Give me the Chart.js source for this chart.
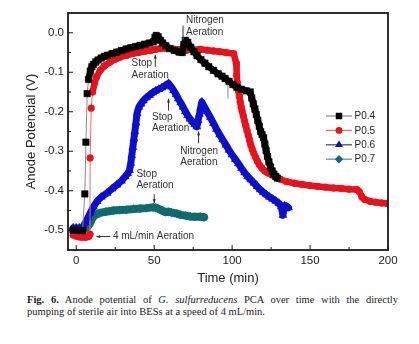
<!DOCTYPE html>
<html>
<head>
<meta charset="utf-8">
<script src="https://cdn.jsdelivr.net/npm/chart.js@4.4.1/dist/chart.umd.min.js"></script>
<style>
  html, body { margin: 0; padding: 0; background: #fff; }
  #wrap { position: absolute; left: 0; top: 0; width: 419px; height: 290px; }
  .cap { position: absolute; left: 27px; width: 371px; font-family: "Liberation Serif", "Times New Roman", serif;
         font-size: 10.5px; line-height: 11.7px; color: #222; white-space: nowrap; }
  #cap1 { top: 294px; text-align: justify; text-align-last: justify; }
  #cap2 { top: 305.7px; }
</style>
</head>
<body>
<div id="wrap"><canvas id="chart"></canvas></div>
<div class="cap" id="cap1"><b>Fig. 6.</b> Anode potential of <i>G. sulfurreducens</i> PCA over time with the directly</div>
<div class="cap" id="cap2">pumping of sterile air into BESs at a speed of 4 mL/min.</div>
<script>
// time (min) / anode potential (V) for each run
const p04Time = [-2, 0, 2, 4, 5.5, 6.2, 7.0, 7.9, 9, 10, 11, 12.5, 14, 16, 18, 20, 23, 26, 29, 32, 35, 38, 41, 44, 47, 49.5,
  50.5, 51.3, 52.5, 54, 55.5, 57.5, 60, 63, 66, 68, 69, 70, 71.5, 73.5, 75.5, 77.5, 80, 82.5, 85, 88, 91, 93.5, 95.5, 98,
  100.5, 103, 106, 109, 111.6, 112.6, 113.6, 114.6, 115.5, 116.5, 117.4, 118.3, 119.2, 120.2, 121, 121.8, 122.7, 123.6,
  124.6, 125.7, 126.8, 128, 129];
const p04Volt = [-0.500, -0.500, -0.500, -0.501, -0.408, -0.277, -0.154, -0.118, -0.097, -0.086, -0.080, -0.074, -0.069,
  -0.064, -0.060, -0.057, -0.053, -0.049, -0.045, -0.041, -0.038, -0.035, -0.032, -0.029, -0.026, -0.023,
  -0.012, -0.007, -0.010, -0.019, -0.026, -0.033, -0.040, -0.045, -0.049, -0.050, -0.030, -0.019, -0.024, -0.037, -0.048,
  -0.058, -0.068, -0.077, -0.086, -0.095, -0.104, -0.110, -0.116, -0.123, -0.131, -0.138, -0.143, -0.147, -0.150,
  -0.165, -0.180, -0.193, -0.207, -0.222, -0.237, -0.250, -0.258, -0.266, -0.282, -0.298, -0.313, -0.327, -0.340,
  -0.350, -0.358, -0.364, -0.368];

const p05Time = [-2, 0, 2, 4, 6, 8, 8.8, 8.9, 9.6, 10.5, 11.7, 13, 15.4, 18, 21.8, 25, 28, 32.5, 36, 40, 44, 47.5, 51, 54,
  58, 62, 66, 71, 75, 79.5, 84, 88, 92, 96, 101, 102.7, 102.9, 103.4, 104, 104.6, 105.2, 105.8, 106.4, 107.2, 108, 108.8,
  109.6, 110.4, 111.2, 112, 112.9, 113.9, 115, 116.2, 117.6, 119.2, 121, 123, 125.5, 128, 131, 135, 140, 145, 150, 155,
  160, 165, 170, 175, 180, 181.5, 183.3, 185, 188.6, 192, 196, 199.5];
const p05Volt = [-0.512, -0.515, -0.517, -0.518, -0.518, -0.516, -0.510, -0.317, -0.191, -0.150, -0.128, -0.112, -0.095,
  -0.084, -0.074, -0.067, -0.062, -0.057, -0.053, -0.050, -0.047, -0.045, -0.042, -0.040, -0.040, -0.041, -0.043, -0.044,
  -0.043, -0.042, -0.044, -0.046, -0.048, -0.050, -0.053, -0.078, -0.108, -0.128, -0.146, -0.160, -0.175, -0.188, -0.199,
  -0.211, -0.224, -0.236, -0.248, -0.260, -0.272, -0.284, -0.295, -0.305, -0.315, -0.325, -0.335, -0.343, -0.350, -0.355,
  -0.360, -0.365, -0.371, -0.377, -0.381, -0.384, -0.387, -0.389, -0.391, -0.393, -0.394, -0.396, -0.397, -0.402, -0.416,
  -0.422, -0.427, -0.429, -0.431, -0.432];

const p06Time = [-2, 0, 2, 4, 5.8, 7.5, 9, 11, 13.3, 16, 19.7, 23, 26.1, 29, 31.4, 33, 34.2, 35.0, 35.6, 36.3, 37.0, 37.6,
  38.3, 39.0, 40.2, 41.5, 43, 45, 47, 49, 51, 53, 55, 57, 59.2, 61, 62.5, 64, 65.5, 67, 68.5, 70, 71.5, 73, 74.5, 76, 77.4,
  78.2, 79, 79.8, 80.6, 82, 84, 86, 88, 90, 92, 94, 96, 98, 100, 102, 104, 106, 108, 110, 112, 114, 116, 118, 120, 122,
  124, 126, 128, 130, 131.5, 132.6, 133.6, 135, 136.2];
const p06Volt = [-0.494, -0.494, -0.494, -0.493, -0.481, -0.468, -0.456, -0.441, -0.427, -0.416, -0.406, -0.395, -0.385,
  -0.375, -0.364, -0.356, -0.348, -0.330, -0.311, -0.290, -0.268, -0.250, -0.228, -0.204, -0.188, -0.180, -0.172, -0.164,
  -0.158, -0.152, -0.147, -0.143, -0.139, -0.134, -0.128, -0.137, -0.146, -0.156, -0.167, -0.177, -0.188, -0.199, -0.209,
  -0.218, -0.225, -0.232, -0.238, -0.222, -0.206, -0.190, -0.175, -0.186, -0.200, -0.214, -0.229, -0.244, -0.258, -0.271,
  -0.284, -0.297, -0.309, -0.320, -0.331, -0.343, -0.354, -0.364, -0.372, -0.380, -0.389, -0.397, -0.404, -0.410, -0.416,
  -0.421, -0.426, -0.432, -0.440, -0.462, -0.438, -0.440, -0.443];

const p07Time = [-2, 0, 2, 4, 6, 7.5, 9, 10, 11.1, 13, 15.4, 19, 23.9, 28, 32, 36.8, 41, 45, 49.6, 51, 52.8, 55, 57.1, 59,
  61, 64.6, 67, 70, 73, 76, 79.6, 82];
const p07Volt = [-0.500, -0.500, -0.500, -0.500, -0.496, -0.490, -0.481, -0.472, -0.465, -0.460, -0.456, -0.453, -0.450,
  -0.449, -0.448, -0.446, -0.445, -0.444, -0.442, -0.443, -0.446, -0.450, -0.454, -0.453, -0.455, -0.458, -0.461, -0.463,
  -0.465, -0.466, -0.466, -0.467];

const seriesNames = ['P0.4', 'P0.5', 'P0.6', 'P0.7'];
const xTicks = [0, 50, 100, 150, 200];
const xMinor = [25, 75, 125, 175];
const yTicks = [-0.5, -0.4, -0.3, -0.2, -0.1, 0.0];
const yMinor = [-0.45, -0.35, -0.25, -0.15, -0.05];

// arrow notes, placed in data units
const notes = [
  { text: ['Nitrogen', 'Aeration'], x: 70.4, y: 0.031, from: [68.5, 0.018], to: [68.5, -0.020] },
  { text: ['Stop', 'Aeration'], x: 35.5, y: -0.077, from: [50.7, -0.086], to: [50.7, -0.056] },
  { text: ['Stop', 'Aeration'], x: 48.6, y: -0.213, from: [59.2, -0.197], to: [59.2, -0.167] },
  { text: ['Nitrogen', 'Aeration'], x: 66.7, y: -0.299, from: [78.5, -0.280], to: [78.5, -0.250] },
  { text: ['Stop', 'Aeration'], x: 38.6, y: -0.357, from: [50.0, -0.409], to: [50.0, -0.431] },
  { text: ['4 mL/min Aeration'], x: 23.5, y: -0.516, from: [21.8, -0.516], to: [13.0, -0.516] },
  { text: [], x: 0, y: 0, from: [97.3, -0.132], to: [97.3, -0.167], plain: true }
];

const look = [
  { mark: '#000000', line: '#8a8a8a', style: 'rect', r: 4.6, band: 6.5 },
  { mark: '#e8121c', line: '#f06a6a', style: 'circle', r: 3.4, band: 6.5 },
  { mark: '#0c10c8', line: '#444444', style: 'triangle', r: 4.6, band: 7 },
  { mark: '#106a70', line: '#5e8d90', style: 'rectRot', r: 4.2, band: 8 }
];
const times = [p04Time, p05Time, p06Time, p07Time];
const volts = [p04Volt, p05Volt, p06Volt, p07Volt];

function segLen(ctx) {
  return Math.hypot(ctx.p1.x - ctx.p0.x, ctx.p1.y - ctx.p0.y);
}

const datasets = seriesNames.map((name, i) => ({
  label: name,
  data: times[i].map((t, k) => ({ x: t, y: volts[i][k] })),
  borderColor: look[i].mark,
  borderWidth: look[i].band,
  borderJoinStyle: 'round',
  borderCapStyle: 'round',
  tension: 0,
  pointStyle: look[i].style,
  pointRadius: look[i].r,
  pointBackgroundColor: look[i].mark,
  pointBorderColor: look[i].mark,
  pointBorderWidth: 0.5,
  segment: {
    borderColor: c => segLen(c) > 12 ? look[i].line : look[i].mark,
    borderWidth: c => segLen(c) > 12 ? 1 : look[i].band
  }
}));

function drawMarker(ctx, style, x, y, r, color) {
  ctx.fillStyle = color;
  ctx.beginPath();
  if (style === 'rect') {
    const s = r * Math.SQRT1_2;
    ctx.rect(x - s, y - s, 2 * s, 2 * s);
  } else if (style === 'circle') {
    ctx.arc(x, y, r, 0, Math.PI * 2);
  } else if (style === 'triangle') {
    ctx.moveTo(x, y - r);
    ctx.lineTo(x + r * 0.866, y + r * 0.5);
    ctx.lineTo(x - r * 0.866, y + r * 0.5);
    ctx.closePath();
  } else {
    ctx.moveTo(x, y - r);
    ctx.lineTo(x + r, y);
    ctx.lineTo(x, y + r);
    ctx.lineTo(x - r, y);
    ctx.closePath();
  }
  ctx.fill();
}

function arrow(ctx, x0, y0, x1, y1, head) {
  ctx.beginPath();
  ctx.moveTo(x0, y0);
  ctx.lineTo(x1, y1);
  ctx.stroke();
  if (!head) return;
  const a = Math.atan2(y1 - y0, x1 - x0);
  ctx.beginPath();
  ctx.moveTo(x1, y1);
  ctx.lineTo(x1 - 4 * Math.cos(a - 0.4), y1 - 4 * Math.sin(a - 0.4));
  ctx.lineTo(x1 - 4 * Math.cos(a + 0.4), y1 - 4 * Math.sin(a + 0.4));
  ctx.closePath();
  ctx.fill();
}

// frame, inward ticks, notes and the legend box
const decor = {
  id: 'decor',
  afterDatasetsDraw(chart) {
    const { ctx, chartArea: a, scales: { x, y } } = chart;
    ctx.save();
    ctx.strokeStyle = '#1a1a1a';
    ctx.lineWidth = 1;
    xTicks.concat(xMinor).forEach(v => {
      const px = x.getPixelForValue(v);
      const len = xTicks.includes(v) ? 5 : 3;
      ctx.beginPath(); ctx.moveTo(px, a.bottom); ctx.lineTo(px, a.bottom - len); ctx.stroke();
    });
    yTicks.concat(yMinor).forEach(v => {
      const py = y.getPixelForValue(v);
      const len = yTicks.includes(v) ? 5 : 3;
      ctx.beginPath(); ctx.moveTo(a.left, py); ctx.lineTo(a.left + len, py); ctx.stroke();
    });
    ctx.lineWidth = 1.8;
    ctx.strokeRect(a.left, a.top, a.right - a.left, a.bottom - a.top);

    // notes
    ctx.font = '10px "Liberation Sans", Arial, sans-serif';
    ctx.textBaseline = 'middle';
    ctx.textAlign = 'left';
    notes.forEach(n => {
      ctx.strokeStyle = n.plain ? '#8a8a8a' : '#333333';
      ctx.fillStyle = '#333333';
      ctx.lineWidth = 1;
      arrow(ctx, x.getPixelForValue(n.from[0]), y.getPixelForValue(n.from[1]),
        x.getPixelForValue(n.to[0]), y.getPixelForValue(n.to[1]), !n.plain);
      const tx = x.getPixelForValue(n.x);
      const ty = y.getPixelForValue(n.y);
      n.text.forEach((s, k) => ctx.fillText(s, tx, ty + k * 11.8));
    });

    // legend
    ctx.font = '10px "Liberation Sans", Arial, sans-serif';
    seriesNames.forEach((name, i) => {
      const ly = a.top + 103 + i * 14.4;
      const lx = a.right - 62;
      ctx.strokeStyle = look[i].line;
      ctx.lineWidth = 1.2;
      ctx.beginPath(); ctx.moveTo(lx, ly); ctx.lineTo(lx + 26, ly); ctx.stroke();
      drawMarker(ctx, look[i].style, lx + 13, ly, look[i].r, look[i].mark);
      ctx.fillStyle = '#222222';
      ctx.fillText(name, lx + 28.5, ly + 0.5);
    });
    ctx.restore();
  }
};

Chart.defaults.font.family = '"Liberation Sans", Arial, sans-serif';
Chart.defaults.color = '#222222';

new Chart(document.getElementById('chart'), {
  type: 'line',
  data: { datasets },
  options: {
    responsive: true,
    maintainAspectRatio: false,
    animation: false,
    devicePixelRatio: 1,
    layout: { padding: { left: 0, top: 13, right: 31, bottom: 0 } },
    plugins: { legend: { display: false }, tooltip: { enabled: false } },
    scales: {
      x: {
        type: 'linear',
        min: -5.3,
        max: 200,
        afterBuildTicks: s => { s.ticks = xTicks.map(v => ({ value: v })); },
        afterFit: s => { s.height = 40; },
        grid: { display: false, drawTicks: false, tickLength: 0 },
        border: { display: false },
        ticks: { font: { size: 11.5 }, padding: 4, maxRotation: 0, callback: v => String(v) },
        title: { display: true, text: 'Time (min)', font: { size: 13 }, padding: { top: 0, bottom: 4 } }
      },
      y: {
        type: 'linear',
        min: -0.55,
        max: 0.05,
        afterBuildTicks: s => { s.ticks = yTicks.map(v => ({ value: v })); },
        afterFit: s => { s.width = 68; },
        grid: { display: false, drawTicks: false, tickLength: 0 },
        border: { display: false },
        ticks: { font: { size: 11.5 }, padding: 4, callback: v => v.toFixed(1) },
        title: { display: true, text: 'Anode Potencial (V)', font: { size: 13 }, padding: { top: 24, bottom: 0 } }
      }
    }
  },
  plugins: [decor]
});
</script>
</body>
</html>
